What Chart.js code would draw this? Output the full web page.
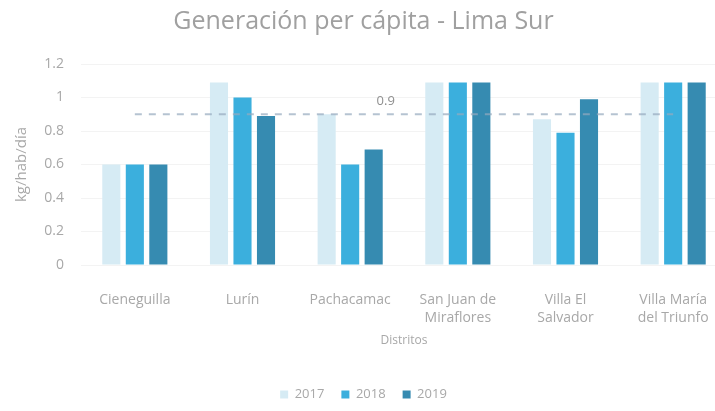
<!DOCTYPE html>
<html>
<head>
<meta charset="utf-8">
<script src="https://cdn.jsdelivr.net/npm/chart.js@4"></script>
<style>
html,body{margin:0;padding:0;background:#fff;overflow:hidden;}
#wrap{width:736px;height:411px;}
</style>
</head>
<body>
<div id="wrap"><canvas id="c" width="736" height="411"></canvas></div>
<script>
const categories = [["Cieneguilla"], ["Lurín"], ["Pachacamac"], ["San Juan de", "Miraflores"], ["Villa El", "Salvador"], ["Villa María", "del Triunfo"]];
const v2017 = [0.6, 1.09, 0.9, 1.09, 0.87, 1.09];
const v2018 = [0.6, 1.0, 0.6, 1.09, 0.79, 1.09];
const v2019 = [0.6, 0.89, 0.69, 1.09, 0.99, 1.09];
const refLine = [0.9, 0.9, 0.9, 0.9, 0.9, 0.9];
const refLabel = "0.9";
const yTicks = [0, 0.2, 0.4, 0.6, 0.8, 1, 1.2];

const gray = '#a8a8a8';
const baseFont = "'Open Sans', 'Noto Sans', sans-serif";
const PLOT_BOTTOM = 265;
const DISTRITOS_Y = 341;

const refLabelPlugin = {
  id: 'refLabel',
  afterDatasetsDraw(chart) {
    const x = chart.scales.x, y = chart.scales.y;
    const ctx = chart.ctx;
    ctx.save();
    ctx.fillStyle = '#8f8f8f';
    ctx.font = "13px " + baseFont;
    ctx.textAlign = 'center';
    ctx.textBaseline = 'middle';
    ctx.fillText(refLabel, x.getPixelForValue(2.33), y.getPixelForValue(refLine[2]) - 13);
    ctx.restore();
  }
};

new Chart(document.getElementById('c'), {
  type: 'bar',
  data: {
    labels: categories,
    datasets: [
      { type: 'line', label: 'ref', data: refLine, borderColor: 'rgba(150,170,190,0.7)', borderWidth: 2, borderDash: [7, 7], pointRadius: 0, fill: false, order: 0 },
      { label: '2017', data: v2017, backgroundColor: '#d6ebf4', order: 1 },
      { label: '2018', data: v2018, backgroundColor: '#3bafdd', order: 1 },
      { label: '2019', data: v2019, backgroundColor: '#368bb1', order: 1 }
    ]
  },
  options: {
    responsive: false,
    animation: false,
    devicePixelRatio: 1,
    layout: { padding: { left: 0, right: 9, top: 0, bottom: 0 } },
    datasets: { bar: { categoryPercentage: 0.655, barPercentage: 0.77 } },
    plugins: {
      title: {
        display: true,
        text: 'Generación per cápita - Lima Sur',
        color: '#a0a0a0',
        font: { family: baseFont, size: 25, weight: 'normal', lineHeight: 1.2 },
        padding: { top: 7, bottom: 27 }
      },
      legend: {
        position: 'bottom',
        labels: {
          filter: (item) => item.text !== 'ref',
          boxWidth: 8, boxHeight: 8,
          color: gray,
          font: { family: baseFont, size: 13 },
          padding: 17
        }
      },
      tooltip: { enabled: false }
    },
    scales: {
      x: {
        grid: { display: false },
        border: { display: false },
        ticks: { color: gray, font: { family: baseFont, size: 14, lineHeight: 1.3 }, padding: 18, maxRotation: 0, autoSkip: false },
        title: {
          display: true, text: 'Distritos', color: gray,
          font: { family: baseFont, size: 12, lineHeight: 1.2 },
          padding: { top: 0, bottom: 30 }
        },
        afterFit(s) {
          const legH = s.chart.legend ? s.chart.legend.height : 37;
          s.height = s.chart.height - PLOT_BOTTOM - legH;
          s.options.title.padding.bottom = Math.max(0, (s.chart.height - legH) - DISTRITOS_Y - 7.2);
        }
      },
      y: {
        min: 0, max: 1.2,
        afterBuildTicks(s) { s.ticks = yTicks.map(v => ({ value: v })); },
        grid: { color: '#f3f3f3', drawTicks: false },
        border: { display: false },
        ticks: { color: gray, font: { family: baseFont, size: 14 }, padding: 17, callback: (v) => String(Math.round(v * 10) / 10) },
        title: { display: true, text: 'kg/hab/día', color: gray, font: { family: baseFont, size: 15, lineHeight: 1.2 }, padding: { top: 13, bottom: 0 } },
        afterFit(s) { s.width = 81; }
      }
    }
  },
  plugins: [refLabelPlugin]
});
</script>
</body>
</html>
